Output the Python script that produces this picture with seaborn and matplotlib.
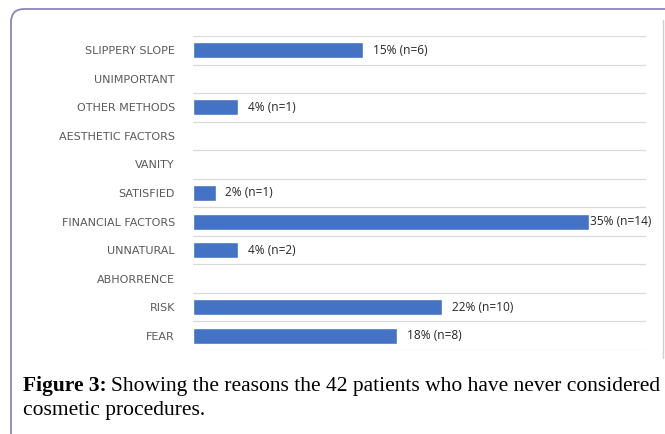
import matplotlib
matplotlib.use('Agg')
import matplotlib.pyplot as plt
import seaborn as sns
import pandas as pd
from matplotlib.patches import FancyBboxPatch
from matplotlib.lines import Line2D

# data
reasons = ['SLIPPERY SLOPE', 'UNIMPORTANT', 'OTHER METHODS', 'AESTHETIC FACTORS',
           'VANITY', 'SATISFIED', 'FINANCIAL FACTORS', 'UNNATURAL', 'ABHORRENCE',
           'RISK', 'FEAR']
percent = [15, 0, 4, 0, 0, 2, 35, 4, 0, 22, 18]
labels = ['15% (n=6)', '', '4% (n=1)', '', '', '2% (n=1)', '35% (n=14)',
          '4% (n=2)', '', '22% (n=10)', '18% (n=8)']

df = pd.DataFrame({'reason': reasons, 'percent': percent, 'label': labels})

sns.set_style('white')
fig = plt.figure(figsize=(6.65, 4.34), dpi=100)
ax = fig.add_axes([193/665, 1 - 350/434, (646 - 193)/665, (350 - 36)/434])

sns.barplot(data=df, x='percent', y='reason', color='#4472C4', width=0.56,
            saturation=1, ax=ax, zorder=3)

ax.set_xlim(0, 40)
ax.set_ylim(len(reasons) - 0.5, -0.5)
ax.set_xticks([])
ax.set_yticks(range(len(reasons)))
ax.set_yticklabels(reasons, fontsize=8, color='#595959', family='DejaVu Sans')
ax.tick_params(axis='y', length=0, pad=13)
ax.set_xlabel('')
ax.set_ylabel('')
for s in ax.spines.values():
    s.set_visible(False)

# horizontal gridlines between categories
for b in range(len(reasons) + 1):
    ax.axhline(b - 0.5, color='#d9d9d9', lw=0.9, zorder=1)

# value labels
vmax = max(percent)
for i, (v, t) in enumerate(zip(percent, labels)):
    if not t:
        continue
    off = 0.3 if v == vmax else 7
    ax.annotate(t, (v, i), xytext=(off, 0), textcoords='offset points',
                va='center', ha='left', fontsize=8.6, color='#262626',
                family='Open Sans', annotation_clip=False)

# outer frame of the figure panel
frame = FancyBboxPatch((11/665, -0.05), 1.2, 1 - 9/434 + 0.05,
                       boxstyle='round,pad=0,rounding_size=0.02',
                       transform=fig.transFigure, fill=False,
                       edgecolor='#8c84bc', lw=1.3, mutation_aspect=665/434)
fig.patches.append(frame)
fig.lines.append(Line2D([663/665, 663/665], [1 - 20/434, 1 - 358/434],
                        transform=fig.transFigure, color='#d0d0d0', lw=1))

# caption: bold lead-in followed by regular text
y1 = 1 - 386/434
t_bold = fig.text(23/665, y1, 'Figure 3:', fontsize=15.5, fontweight='bold',
                  family='Liberation Serif', va='center', ha='left', color='black')
r = fig.canvas.get_renderer()
bb = t_bold.get_window_extent(renderer=r)
fig.text(bb.x1 / fig.bbox.width + 4/665, y1,
         'Showing the reasons the 42 patients who have never considered',
         fontsize=15.5, family='Liberation Serif', va='center', ha='left',
         color='black')
fig.text(23/665, 1 - 410/434, 'cosmetic procedures.', fontsize=15.5,
         family='Liberation Serif', va='center', ha='left', color='black')

fig.savefig('out.png', dpi=100)
